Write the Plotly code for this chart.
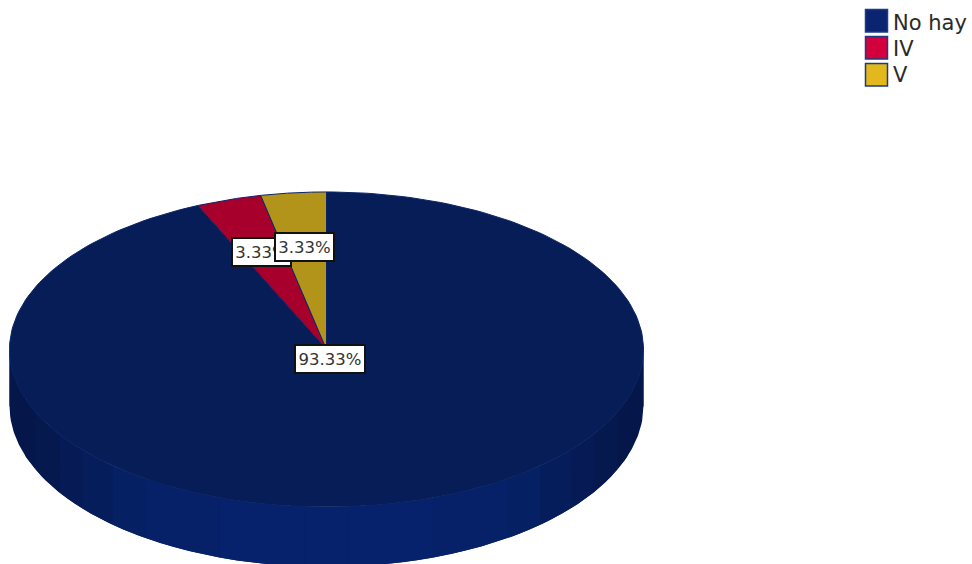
import numpy as np
import plotly.graph_objects as go

# Pie data
categories = ["No hay", "IV", "V"]
percentages = [93.33, 3.33, 3.33]
top_colors = ["#071d57", "#a8002c", "#b3941a"]
legend_colors = ["#0a2472", "#d2003c", "#e2b81c"]

# Disc proportions in units of the horizontal radius
TILT = 0.497
BASE_TILT = 0.509
DEPTH = 0.177
W, H, RX, CX, CY = 972, 564, 317.0, 326.5, 349.5

# Shading of the disc wall, left half; the right half mirrors it
wall_edges = [1.0, 0.918, 0.842, 0.77, 0.675, 0.571, 0.3375, 0.07]
wall_shades = ["#05164a", "#06194f", "#061b55", "#061d5b", "#062064", "#062168", "#07226c"]

fig = go.Figure()


def polygon(x, y, fill, line=None):
    fig.add_trace(go.Scatter(
        x=x, y=y, mode="lines", fill="toself", fillcolor=fill,
        line=dict(color=line or fill, width=1 if line else 0),
        hoverinfo="skip", showlegend=False,
    ))


def wall_band(x0, x1, color):
    xs = np.linspace(x0, x1, 40)
    arc = np.sqrt(np.clip(1 - xs**2, 0, None))
    upper = -TILT * arc
    lower = -BASE_TILT * arc - DEPTH
    polygon(np.r_[xs, xs[::-1]], np.r_[upper, lower[::-1]], color)


# Disc wall: a solid base, then the shaded vertical bands
wall_band(-1, 1, wall_shades[3])
for i, shade in enumerate(wall_shades):
    wall_band(-wall_edges[i], -wall_edges[i + 1], shade)
    wall_band(wall_edges[i + 1], wall_edges[i], shade)
wall_band(-wall_edges[-1], wall_edges[-1], wall_shades[-1])

# Top face: slices run clockwise from twelve o'clock
bounds = np.cumsum([0] + percentages) / sum(percentages) * 2 * np.pi
for i, name in enumerate(categories):
    theta = np.linspace(bounds[i], bounds[i + 1], 240)
    xs = np.r_[0, np.sin(theta), 0]
    ys = np.r_[0, TILT * np.cos(theta), 0]
    polygon(xs, ys, top_colors[i], line="#0a2466")

# Value labels: later ones sit over earlier ones
label_centers = [(329.5, 358.5), (261.5, 251.5), (304.5, 247)]
annotations = []
for (lx, ly), value in zip(label_centers, percentages):
    annotations.append(dict(
        xref="paper", yref="paper", x=lx / W, y=1 - ly / H,
        xanchor="center", yanchor="middle",
        text=f"{value:.2f}%", showarrow=False, width=66 if value > 10 else 55, height=24,
        font=dict(family="DejaVu Sans", size=16.5, color="#333333"),
        bgcolor="white", bordercolor="#111111", borderwidth=2, borderpad=1,
    ))

# Legend built as swatches with text beside them
shapes = []
for i, name in enumerate(categories):
    top = 9.5 + 27 * i
    shapes.append(dict(
        type="rect", xref="paper", yref="paper",
        x0=865.5 / W, x1=887.5 / W, y0=1 - (top + 22.5) / H, y1=1 - top / H,
        fillcolor=legend_colors[i], line=dict(color="#1c3a86", width=1.5),
    ))
    annotations.append(dict(
        xref="paper", yref="paper", x=890.5 / W, y=1 - (23.5 + 26 * i) / H,
        xanchor="left", yanchor="middle", text=name, showarrow=False,
        font=dict(family="DejaVu Sans", size=21, color="#2a2a2a"),
    ))

fig.update_layout(
    width=W, height=H, margin=dict(l=0, r=0, t=0, b=0),
    paper_bgcolor="white", plot_bgcolor="white", showlegend=False,
    xaxis=dict(range=[-CX / RX, (W - CX) / RX], visible=False, fixedrange=True),
    yaxis=dict(range=[(CY - H) / RX, CY / RX], visible=False, fixedrange=True),
    shapes=shapes, annotations=annotations,
)

fig.write_html("out.html", config=dict(displayModeBar=False))
